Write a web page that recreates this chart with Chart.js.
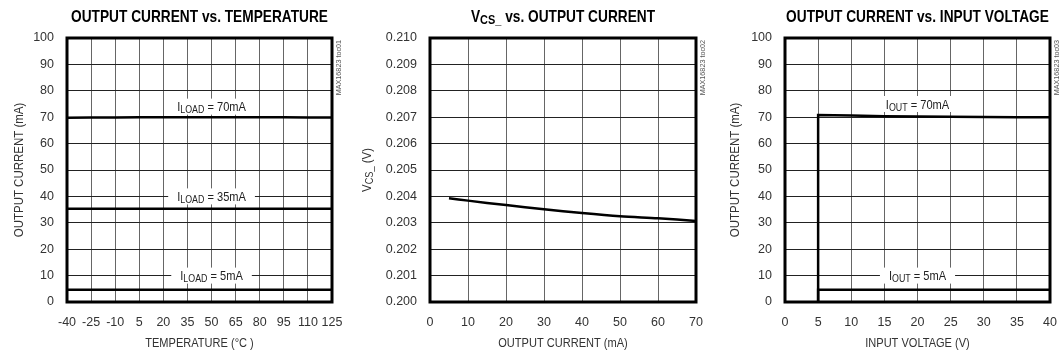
<!DOCTYPE html>
<html>
<head>
<meta charset="utf-8">
<script src="https://cdn.jsdelivr.net/npm/chart.js@4/dist/chart.umd.min.js"></script>
<style>
  html, body { margin: 0; padding: 0; background: #fff; }
  #wrap { position: relative; width: 1062px; height: 356px; }
  canvas { position: absolute; top: 0; }
</style>
</head>
<body>
<div id="wrap">
  <canvas id="c1" width="354" height="356" style="left:0"></canvas>
  <canvas id="c2" width="354" height="356" style="left:354px"></canvas>
  <canvas id="c3" width="354" height="356" style="left:708px"></canvas>
</div>
<script>
// --- donnees ---
// graphe 1 : courant de sortie vs temperature
const tempTicks = [-40, -25, -10, 5, 20, 35, 50, 65, 80, 95, 110, 125];
const currentTicks = [0, 10, 20, 30, 40, 50, 60, 70, 80, 90, 100];
const load70 = [69.8, 69.9, 69.9, 70, 70, 70, 70, 70, 70, 70, 69.9, 69.9];
const load35 = [35.3, 35.3, 35.3, 35.3, 35.3, 35.3, 35.3, 35.3, 35.3, 35.3, 35.3, 35.3];
const load5 = [4.6, 4.6, 4.6, 4.6, 4.6, 4.6, 4.6, 4.6, 4.6, 4.6, 4.6, 4.6];

// graphe 2 : VCS_ vs courant de sortie
const ioutTicks = [0, 10, 20, 30, 40, 50, 60, 70];
const vcsTicks = [0.200, 0.201, 0.202, 0.203, 0.204, 0.205, 0.206, 0.207, 0.208, 0.209, 0.210];
const vcsCurrent = [5, 10, 20, 30, 40, 50, 60, 70];
const vcsValues = [0.20393, 0.20384, 0.20367, 0.20351, 0.20337, 0.20325, 0.20317, 0.20307];

// graphe 3 : courant de sortie vs tension d'entree
const vinTicks = [0, 5, 10, 15, 20, 25, 30, 35, 40];
const vin70 = [5, 5, 10, 15, 20, 25, 30, 35, 40];
const iout70 = [0, 70.8, 70.6, 70.4, 70.3, 70.2, 70.1, 70, 70];
const vin5 = [5, 5, 40];
const iout5 = [0, 4.6, 4.6];

const FONT = "'Liberation Sans', Arial, sans-serif";
const TICK_COLOR = '#333';

const pts = (xs, ys) => xs.map((x, i) => ({ x: x, y: ys[i] }));

// texte etroit avec indices : parts = [[texte, indice?], ...]
function richWidth(ctx, parts, size, weight) {
  let w = 0;
  parts.forEach(p => {
    ctx.font = `${weight} ${p[1] ? size * 0.8 : size}px ${FONT}`;
    w += ctx.measureText(p[0]).width;
  });
  return w;
}
// centre en (x, y), compression horizontale hs
function drawRich(ctx, parts, x, y, size, weight, color, hs) {
  const w = richWidth(ctx, parts, size, weight);
  ctx.save();
  ctx.translate(x, y);
  ctx.scale(hs, 1);
  let cx = -w / 2;
  const base = size * 0.716 / 2;
  ctx.fillStyle = color;
  ctx.textAlign = 'left';
  ctx.textBaseline = 'alphabetic';
  parts.forEach(p => {
    ctx.font = `${weight} ${p[1] ? size * 0.8 : size}px ${FONT}`;
    ctx.fillText(p[0], cx, base + (p[1] ? 2 : 0));
    cx += ctx.measureText(p[0]).width;
  });
  ctx.restore();
  return w * hs;
}

const decor = {
  id: 'decor',
  afterDraw(chart, args, opts) {
    const ctx = chart.ctx;
    const a = chart.chartArea;
    const xs = chart.scales.x, ys = chart.scales.y;
    const midX = (a.left + a.right) / 2, midY = (a.top + a.bottom) / 2;
    ctx.save();
    // etiquettes sur fond blanc
    (opts.labels || []).forEach(l => {
      const px = xs.getPixelForValue(l.x), py = ys.getPixelForValue(l.y);
      const w = richWidth(ctx, l.parts, 13.5, 'normal') * 0.82;
      ctx.fillStyle = '#fff';
      ctx.fillRect(px - w / 2 - 9, py - 8, w + 18, 16);
      drawRich(ctx, l.parts, px, py, 13.5, 'normal', '#222', 0.82);
    });
    // cadre
    ctx.strokeStyle = '#000';
    ctx.lineWidth = 3;
    ctx.strokeRect(a.left, a.top, a.right - a.left, a.bottom - a.top);
    // titre du graphe
    drawRich(ctx, opts.title, midX, 16.5, 16.5, 'bold', '#000', 0.83);
    // titres des axes
    drawRich(ctx, opts.xTitle, midX, 342, 13, 'normal', TICK_COLOR, 0.85);
    ctx.save();
    ctx.translate(opts.yTitleX, midY);
    ctx.rotate(-Math.PI / 2);
    drawRich(ctx, opts.yTitle, 0, 0, 13.5, 'normal', TICK_COLOR, 0.85);
    ctx.restore();
    // reference verticale
    ctx.translate(a.right + 7, a.top + 2);
    ctx.rotate(-Math.PI / 2);
    ctx.scale(0.9, 1);
    ctx.font = `8px ${FONT}`;
    ctx.fillStyle = '#555';
    ctx.textAlign = 'right';
    ctx.textBaseline = 'middle';
    ctx.fillText(opts.mark, 0, 0);
    ctx.restore();
  }
};

function makeChart(id, cfg) {
  return new Chart(document.getElementById(id), {
    type: 'line',
    data: { datasets: cfg.datasets.map(d => ({
      data: d, borderColor: '#000', borderWidth: 2.5, pointRadius: 0,
      fill: false, tension: cfg.tension || 0
    })) },
    plugins: [decor],
    options: {
      responsive: false,
      animation: false,
      layout: { padding: { left: 0, right: cfg.right, top: 38, bottom: 0 } },
      plugins: {
        legend: { display: false },
        tooltip: { enabled: false },
        decor: { title: cfg.title, mark: cfg.mark, labels: cfg.labels,
          xTitle: cfg.xTitle, yTitle: cfg.yTitle, yTitleX: cfg.yTitleX }
      },
      scales: {
        x: {
          type: 'linear', min: cfg.xTicks[0], max: cfg.xTicks[cfg.xTicks.length - 1],
          afterBuildTicks: s => { s.ticks = cfg.xTicks.map(v => ({ value: v })); },
          afterFit: s => { s.height = 54; },
          // marque de graduation invisible : decale les etiquettes sans elargir la marge droite
          grid: { color: '#666', lineWidth: 1, drawTicks: true, tickLength: 12, tickColor: 'rgba(0,0,0,0)' },
          border: { display: false },
          ticks: { color: TICK_COLOR, padding: 1, maxRotation: 0, autoSkip: false, font: { family: FONT, size: 12.5 } }
        },
        y: {
          type: 'linear', min: cfg.yTicks[0], max: cfg.yTicks[cfg.yTicks.length - 1],
          afterBuildTicks: s => { s.ticks = cfg.yTicks.map(v => ({ value: v })); },
          afterFit: s => { s.width = cfg.yWidth; },
          grid: { color: '#222', lineWidth: 1, drawTicks: false },
          border: { display: false },
          ticks: { color: TICK_COLOR, padding: 13, autoSkip: false, font: { family: FONT, size: 12.5 },
            callback: cfg.yFormat || (v => v) }
        }
      }
    }
  });
}

makeChart('c1', {
  datasets: [pts(tempTicks, load70), pts(tempTicks, load35), pts(tempTicks, load5)],
  xTicks: tempTicks, yTicks: currentTicks, yWidth: 67, right: 22,
  xTitle: [['TEMPERATURE (°C )', false]],
  yTitle: [['OUTPUT CURRENT (mA)', false]], yTitleX: 18,
  title: [['OUTPUT CURRENT vs. TEMPERATURE', false]], mark: 'MAX16823 toc01',
  labels: [
    { x: 50, y: 74, parts: [['I', false], ['LOAD', true], [' = 70mA', false]] },
    { x: 50, y: 40, parts: [['I', false], ['LOAD', true], [' = 35mA', false]] },
    { x: 50, y: 10, parts: [['I', false], ['LOAD', true], [' = 5mA', false]] }
  ]
});

makeChart('c2', {
  datasets: [pts(vcsCurrent, vcsValues)], tension: 0.3,
  xTicks: ioutTicks, yTicks: vcsTicks, yWidth: 76, right: 12,
  yFormat: v => v.toFixed(3),
  xTitle: [['OUTPUT CURRENT (mA)', false]],
  yTitle: [['V', false], ['CS_', true], [' (V)', false]], yTitleX: 12,
  title: [['V', false], ['CS_', true], [' vs. OUTPUT CURRENT', false]], mark: 'MAX16823 toc02',
  labels: []
});

makeChart('c3', {
  datasets: [pts(vin70, iout70), pts(vin5, iout5)],
  xTicks: vinTicks, yTicks: currentTicks, yWidth: 77, right: 12,
  xTitle: [['INPUT VOLTAGE (V)', false]],
  yTitle: [['OUTPUT CURRENT (mA)', false]], yTitleX: 26,
  title: [['OUTPUT CURRENT vs. INPUT VOLTAGE', false]], mark: 'MAX16823 toc03',
  labels: [
    { x: 20, y: 75, parts: [['I', false], ['OUT', true], [' = 70mA', false]] },
    { x: 20, y: 10, parts: [['I', false], ['OUT', true], [' = 5mA', false]] }
  ]
});
</script>
</body>
</html>
